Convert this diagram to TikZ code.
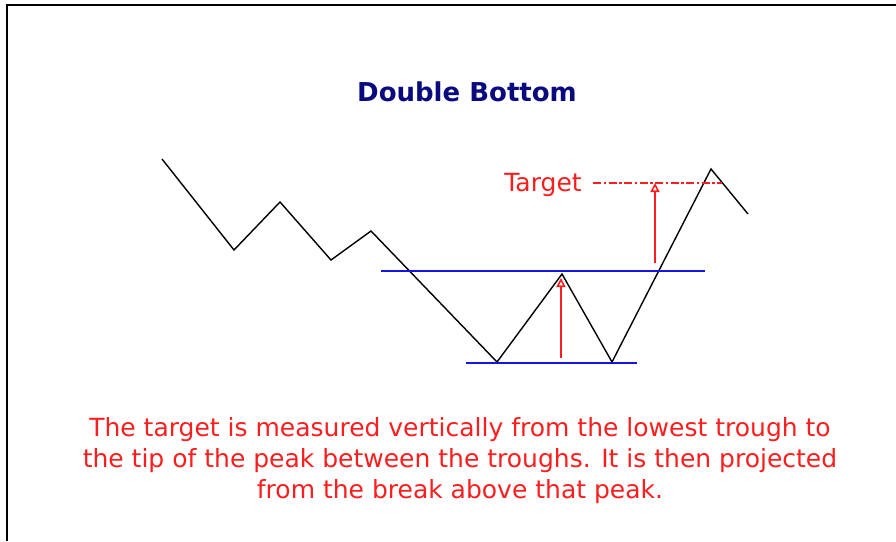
\documentclass[tikz,border=0pt]{standalone}
\usepackage{fontspec}
\setmainfont{DejaVu Sans}
\usetikzlibrary{arrows.meta, positioning}
\definecolor{titleblue}{RGB}{10,10,128}
\definecolor{neckblue}{RGB}{20,20,230}
\definecolor{targetred}{RGB}{250,30,30}
\tikzset{
    >={Triangle[open, length=9pt, width=9pt]}, % open heads for the measure arrows
    price/.style={black, line width=1.4pt, line join=miter},
    level/.style={neckblue, line width=1.6pt},
    measure/.style={->, targetred, line width=1.6pt},
    projection/.style={targetred, line width=1.3pt, dash pattern=on 8pt off 2.5pt on 2.5pt off 2.5pt},
    note/.style={targetred, font=\fontsize{25}{31}\selectfont, align=center}
}

\begin{document}
\begin{tikzpicture}[x=1pt, y=-1pt]
    \useasboundingbox (0,0) rectangle (896,541);
    \draw[line width=1.5pt] (7,541) -- (7,5) -- (896,5); % frame

    \node[titleblue, font=\fontsize{26}{30}\selectfont\bfseries] (title) at (467,92) {Double Bottom};

    % price path
    \coordinate (p0) at (162,159);
    \coordinate (p1) at (234,250);
    \coordinate (p2) at (280,202);
    \coordinate (p3) at (331,260);
    \coordinate (p4) at (371,231);
    \coordinate (trough1) at (497,362);
    \coordinate (peak) at (562,274);
    \coordinate (trough2) at (612,362);
    \coordinate (top) at (711,169);
    \coordinate (p9) at (748,214);
    \draw[price] (p0) -- (p1) -- (p2) -- (p3) -- (p4) -- (trough1) -- (peak) -- (trough2) -- (top) -- (p9);

    % support and neckline
    \coordinate (neckL) at (381,271);
    \coordinate (neckR) at (705,271);
    \coordinate (lowL) at (466,363);
    \coordinate (lowR) at (637,363);
    \draw[level] (neckL) -- (neckR);
    \draw[level] (lowL) -- (lowR);

    % measured height and projection
    \coordinate (m0) at (561,358);
    \coordinate (m1) at (561,278);
    \coordinate (t0) at (655,263);
    \coordinate (t1) at (655,183);
    \draw[measure] (m0) -- (m1);
    \draw[measure] (t0) -- (t1);

    \node[targetred, font=\fontsize{25}{30}\selectfont] (target) at (543,185) {Target};
    \coordinate (dashL) at (593,183);
    \coordinate (dashR) at (722,183);
    \draw[projection] (dashL) -- (dashR);

    \node[note] (caption) at (460,461) {The target is measured vertically from the lowest trough to\\
        the tip of the peak between the troughs. It is then projected\\
        from the break above that peak.};
\end{tikzpicture}
\end{document}
